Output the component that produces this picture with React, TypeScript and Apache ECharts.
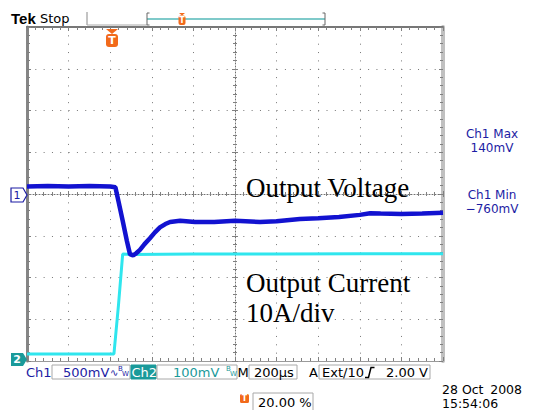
import React, { useEffect, useRef } from "react";
import * as echarts from "echarts";

// ---- data (time in µs, Ch1 in V, Ch2 in mV) ----
const ch1Time = [-400, -300, -200, -100, 0, 25, 40, 60, 80, 95, 110, 125, 143, 165, 191, 215, 239, 265, 288, 336, 408, 500, 600, 720, 800, 912, 1000, 1100, 1200, 1250, 1300, 1400, 1500, 1600];
const ch1Volts = [0.09, 0.095, 0.09, 0.095, 0.09, 0.08, -0.09, -0.32, -0.56, -0.72, -0.735, -0.71, -0.67, -0.6, -0.53, -0.46, -0.4, -0.36, -0.335, -0.32, -0.335, -0.335, -0.32, -0.335, -0.325, -0.3, -0.29, -0.275, -0.25, -0.23, -0.235, -0.24, -0.235, -0.225];
const ch2Time = [-400, -200, 0, 18, 40, 60, 100, 400, 800, 1200, 1600];
const ch2MilliVolts = [12, 12, 12, 12, 130, 251, 250, 251, 251, 252, 252];

const timeMin = -400;
const timeMax = 1600;
const timeStep = 200;
const ch1Min = -2;
const ch1Max = 2;
const ch1Step = 0.5;
const ch2Min = -5;
const ch2Max = 795;

const W = 539;
const H = 410;
const GL = 27, GT = 27, GW = 416, GH = 334;

const BLUE = "#1212d0";
const CYAN = "#2fe6ee";
const TEXTBLUE = "#1c1ca4";
const TEAL = "#1a9a9a";
const ORANGE = "#f26a1b";
const SANS = "DejaVu Sans";

const xBase = {
  type: "value" as const,
  min: timeMin,
  max: timeMax,
  interval: timeStep,
  axisLabel: { show: false },
  splitLine: { show: false },
};
const yBase = {
  type: "value" as const,
  min: ch1Min,
  max: ch1Max,
  interval: ch1Step,
  axisLabel: { show: false },
  splitLine: { show: false },
};

function txt(text: string, x: number, y: number, color: string, size: number, extra: any = {}) {
  return {
    type: "text",
    x,
    y,
    style: {
      text,
      fill: color,
      font: `${extra.weight || "normal"} ${size}px "${extra.family || SANS}"`,
      align: extra.align || "left",
      verticalAlign: "middle",
    },
    z: 100,
  };
}
function box(x: number, y: number, w: number, h: number, fill = "#fff", stroke = "#a8a8a8") {
  return { type: "rect", shape: { x, y, width: w, height: h }, style: { fill, stroke, lineWidth: 1 }, z: 90 };
}

export default function App() {
  const ref = useRef<HTMLDivElement>(null);
  useEffect(() => {
    const chart = echarts.init(ref.current!, null, { renderer: "svg", width: W, height: H });
    const tickStyle = { color: "#808080", width: 1 };
    const option: any = {
      animation: false,
      backgroundColor: "#ffffff",
      grid: { left: GL, top: GT, width: GW, height: GH, containLabel: false },
      xAxis: [
        {
          ...xBase,
          position: "bottom",
          axisLine: { show: true, onZero: false, lineStyle: { color: "#9a9a9a", width: 1 } },
          axisTick: { show: true, inside: true, length: 4, lineStyle: tickStyle },
          minorTick: { show: true, splitNumber: 5, length: 3, lineStyle: tickStyle },
          splitLine: { show: true, lineStyle: { color: "#777", width: 1, type: [1, 7.35] } },
        },
        {
          ...xBase,
          position: "top",
          axisLine: { show: true, onZero: false, lineStyle: { color: "#777", width: 2 } },
          axisTick: { show: true, inside: true, length: 4, lineStyle: tickStyle },
          minorTick: { show: true, splitNumber: 5, length: 3, lineStyle: tickStyle },
        },
        {
          ...xBase,
          position: "bottom",
          offset: -GH / 2,
          axisLine: { show: true, onZero: false, lineStyle: { color: "#707070", width: 1, type: [1, 2] } },
          axisTick: { show: true, inside: true, length: 3, lineStyle: tickStyle },
          minorTick: { show: true, splitNumber: 5, length: 2, lineStyle: tickStyle },
        },
        {
          ...xBase,
          position: "bottom",
          offset: -GH / 2,
          axisLine: { show: false, onZero: false },
          axisTick: { show: true, inside: false, length: 3, lineStyle: tickStyle },
          minorTick: { show: true, splitNumber: 5, length: 2, lineStyle: tickStyle },
        },
      ],
      yAxis: [
        {
          ...yBase,
          position: "left",
          axisLine: { show: true, onZero: false, lineStyle: { color: "#858585", width: 3 } },
          axisTick: { show: true, inside: true, length: 4, lineStyle: tickStyle },
          minorTick: { show: true, splitNumber: 5, length: 3, lineStyle: tickStyle },
          splitLine: { show: true, lineStyle: { color: "#777", width: 1, type: [1, 7.32] } },
        },
        {
          ...yBase,
          position: "right",
          axisLine: { show: true, onZero: false, lineStyle: { color: "#c0c0c0", width: 4 } },
          axisTick: { show: true, inside: true, length: 4, lineStyle: tickStyle },
          minorTick: { show: true, splitNumber: 5, length: 3, lineStyle: tickStyle },
        },
        {
          ...yBase,
          position: "left",
          offset: -GW / 2,
          axisLine: { show: true, onZero: false, lineStyle: { color: "#707070", width: 1, type: [1, 2] } },
          axisTick: { show: true, inside: true, length: 3, lineStyle: tickStyle },
          minorTick: { show: true, splitNumber: 5, length: 2, lineStyle: tickStyle },
        },
        {
          ...yBase,
          position: "left",
          offset: -GW / 2,
          axisLine: { show: false, onZero: false },
          axisTick: { show: true, inside: false, length: 3, lineStyle: tickStyle },
          minorTick: { show: true, splitNumber: 5, length: 2, lineStyle: tickStyle },
        },
        {
          type: "value",
          min: ch2Min,
          max: ch2Max,
          show: false,
        },
      ],
      series: [
        {
          name: "Ch2",
          type: "line",
          xAxisIndex: 0,
          yAxisIndex: 4,
          data: ch2Time.map((t, i) => [t, ch2MilliVolts[i]]),
          showSymbol: false,
          lineStyle: { color: CYAN, width: 3 },
          z: 3,
        },
        {
          name: "Ch1",
          type: "line",
          xAxisIndex: 0,
          yAxisIndex: 0,
          data: ch1Time.map((t, i) => [t, ch1Volts[i]]),
          showSymbol: false,
          lineStyle: { color: BLUE, width: 4.5 },
          z: 4,
        },
      ],
      graphic: [
        // top bar
        txt("Tek", 11, 18, "#000", 15, { weight: "bold", family: "Liberation Sans" }),
        txt("Stop", 40, 18, "#000", 13),
        { type: "line", shape: { x1: 87, y1: 12, x2: 87, y2: 25 }, style: { stroke: "#888", lineWidth: 1 }, z: 90 },
        { type: "line", shape: { x1: 87, y1: 25, x2: 147, y2: 25 }, style: { stroke: "#aaa", lineWidth: 1 }, z: 90 },
        { type: "line", shape: { x1: 147, y1: 19, x2: 325, y2: 19 }, style: { stroke: "#7fcaca", lineWidth: 2 }, z: 90 },
        { type: "polyline", shape: { points: [[149.5, 13], [147, 13], [147, 25], [149.5, 25]] }, style: { stroke: "#666", fill: "none", lineWidth: 1 }, z: 91 },
        { type: "polyline", shape: { points: [[322.5, 13], [325, 13], [325, 25], [322.5, 25]] }, style: { stroke: "#666", fill: "none", lineWidth: 1 }, z: 91 },
        { type: "polygon", shape: { points: [[179, 13], [185, 13], [182, 15.5]] }, style: { fill: ORANGE }, z: 92 },
        { type: "rect", shape: { x: 178.5, y: 15.5, width: 7, height: 9.5, r: 2 }, style: { fill: ORANGE }, z: 92 },
        txt("T", 182, 20.5, "#fff", 8, { weight: "bold", align: "center" }),
        // trigger marker
        { type: "polygon", shape: { points: [[106, 29], [118, 29], [112, 34]] }, style: { fill: ORANGE }, z: 92 },
        { type: "rect", shape: { x: 106, y: 34, width: 12, height: 13, r: 3 }, style: { fill: ORANGE }, z: 92 },
        txt("T", 112, 40.5, "#fff", 11, { weight: "bold", align: "center" }),
        // channel markers
        { type: "polygon", shape: { points: [[11, 188], [23, 188], [27, 195], [23, 202], [11, 202]] }, style: { fill: "#fff", stroke: TEXTBLUE, lineWidth: 1.2 }, z: 92 },
        txt("1", 17, 195, TEXTBLUE, 11, { align: "center" }),
        { type: "polygon", shape: { points: [[11, 353], [23, 353], [27, 359.5], [23, 366], [11, 366]] }, style: { fill: TEAL }, z: 92 },
        txt("2", 17, 359.5, "#fff", 11, { weight: "bold", align: "center" }),
        // right readouts
        txt("Ch1 Max", 492, 134, TEXTBLUE, 12, { align: "center" }),
        txt("140mV", 492, 148, TEXTBLUE, 12, { align: "center" }),
        txt("Ch1 Min", 492, 195, TEXTBLUE, 12, { align: "center" }),
        txt("\u2212760mV", 492, 209, TEXTBLUE, 12, { align: "center" }),
        // annotations
        txt("Output Voltage", 246, 188, "#000", 27, { family: "Liberation Serif" }),
        txt("Output Current", 246, 283, "#000", 27, { family: "Liberation Serif" }),
        txt("10A/div", 246, 313, "#000", 27, { family: "Liberation Serif" }),
        // status bar
        txt("Ch1", 26, 372, TEXTBLUE, 13),
        box(52, 365, 78, 14),
        txt("500mV", 63, 372, TEXTBLUE, 13),
        txt("\u223F", 110, 372, TEXTBLUE, 10),
        txt("B", 118, 369, TEXTBLUE, 7),
        txt("W", 122, 374, TEXTBLUE, 7),
        box(131, 365, 25, 14, TEAL, TEAL),
        txt("Ch2", 131.5, 372, "#fff", 13),
        box(157, 365, 80, 14),
        txt("100mV", 173, 372, TEAL, 13),
        txt("B", 226, 369, TEAL, 7),
        txt("W", 230, 374, TEAL, 7),
        txt("M", 237.5, 372, "#000", 13),
        box(249, 365, 48, 14),
        txt("200\u00B5s", 254, 372, "#000", 13),
        txt("A", 309, 372, "#000", 13),
        box(319, 365, 111, 14),
        txt("Ext/10", 322, 372, "#000", 13),
        { type: "polyline", shape: { points: [[365, 377.5], [368.5, 377.5], [371, 367.5], [374.5, 367.5]] }, style: { stroke: "#000", fill: "none", lineWidth: 1.5 }, z: 100 },
        txt("2.00 V", 428, 372, "#000", 13, { align: "right" }),
        { type: "rect", shape: { x: 240, y: 394, width: 9, height: 9, r: 1.5 }, style: { fill: ORANGE }, z: 92 },
        txt("T", 244.5, 398.5, "#fff", 8, { weight: "bold", align: "center" }),
        box(253, 393, 60, 20),
        txt("20.00 %", 258, 402, "#000", 13),
        txt("28 Oct", 442, 389, "#000", 12.5),
        txt("2008", 522, 389, "#000", 12.5, { align: "right" }),
        txt("15:54:06", 442, 403, "#000", 12.5),
      ],
    };
    chart.setOption(option);
    return () => chart.dispose();
  }, []);
  return (
    <div
      ref={ref}
      style={{ position: "fixed", left: 0, top: 0, width: W, height: H, background: "#fff" }}
    />
  );
}
